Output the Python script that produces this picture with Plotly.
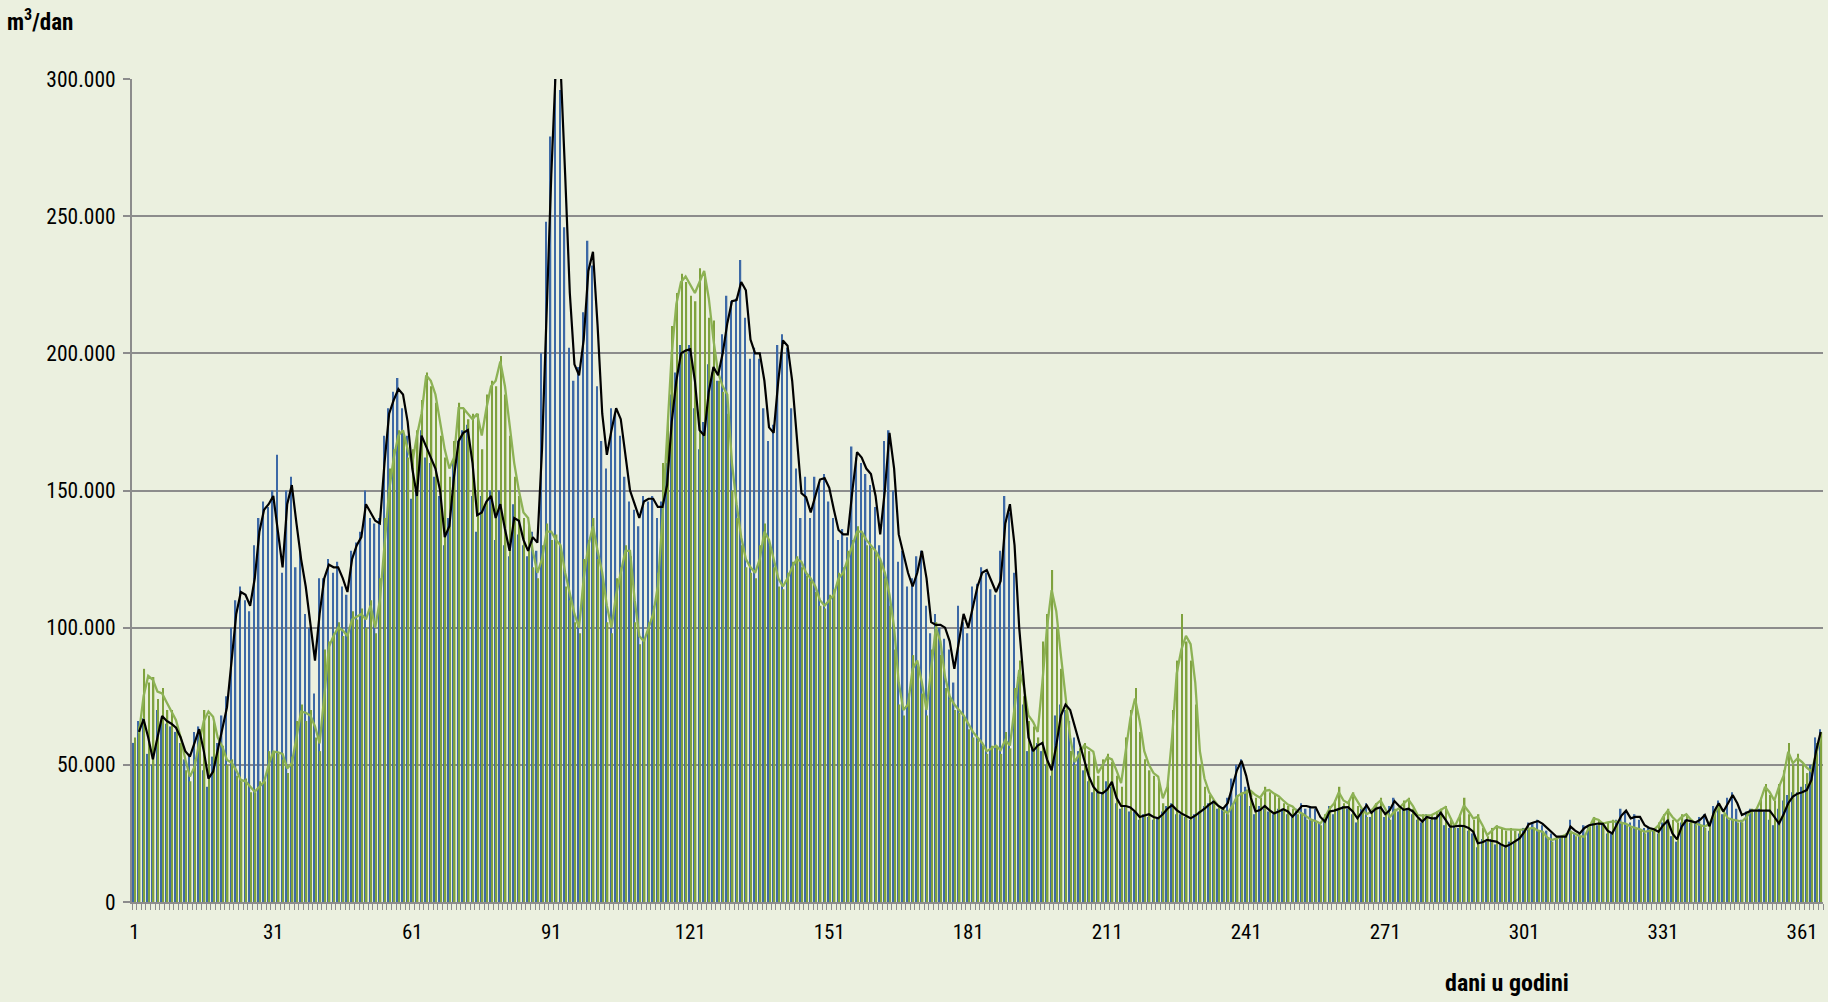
import plotly.graph_objects as go

# values in thousands of m3/dan, day 1..365
blue_bars_k = [
 58, 66, 67, 54, 50, 70, 66, 65, 64, 62,
 58, 52, 54, 62, 64, 48, 42, 53, 58, 68,
 75, 100, 110, 115, 110, 106, 130, 140, 146, 144,
 150, 163, 120, 150, 155, 122, 128, 105, 100, 76,
 118, 118, 125, 120, 124, 115, 112, 128, 131, 135,
 150, 140, 138, 140, 170, 180, 186, 191, 180, 170,
 147, 150, 172, 162, 160, 155, 148, 130, 140, 160,
 168, 172, 174, 148, 135, 148, 145, 150, 132, 150,
 130, 126, 145, 134, 130, 126, 135, 128, 200, 248,
 279, 305, 296, 246, 202, 190, 195, 215, 241, 232,
 188, 168, 158, 180, 178, 170, 155, 146, 143, 137,
 148, 146, 148, 140, 146, 160, 185, 193, 203, 200,
 203, 180, 165, 175, 196, 193, 190, 207, 221, 219,
 220, 234, 213, 198, 202, 198, 180, 168, 174, 203,
 207, 202, 180, 158, 140, 155, 140, 155, 153, 156,
 146, 140, 132, 136, 133, 166, 162, 160, 156, 152,
 144, 130, 168, 172, 150, 124, 128, 115, 118, 126,
 128, 108, 98, 105, 100, 96, 92, 80, 108, 102,
 98, 115, 116, 122, 120, 114, 112, 128, 148, 142,
 120, 82, 72, 55, 56, 58, 55, 50, 46, 68,
 72, 70, 66, 60, 55, 48, 44, 40, 40, 40,
 44, 42, 36, 34, 35, 33, 33, 30, 32, 31,
 30, 31, 33, 35, 36, 32, 32, 31, 30, 32,
 33, 35, 36, 37, 34, 34, 38, 45, 50, 52,
 42, 35, 32, 35, 34, 33, 32, 34, 34, 32,
 31, 34, 36, 34, 35, 34, 29, 30, 35, 32,
 34, 35, 34, 32, 29, 34, 36, 31, 35, 34,
 31, 35, 38, 33, 34, 34, 32, 30, 29, 32,
 30, 31, 33, 28, 27, 28, 27, 28, 26, 25,
 20, 23, 22, 23, 21, 21, 20, 22, 22, 25,
 27, 29, 29, 30, 28, 26, 25, 23, 24, 24,
 30, 25, 25, 28, 28, 29, 28, 29, 25, 25,
 30, 34, 33, 29, 32, 30, 27, 27, 26, 25,
 29, 30, 24, 22, 29, 30, 29, 29, 31, 32,
 26, 35, 37, 32, 38, 40, 34, 30, 33, 34,
 33, 34, 33, 30, 28, 34, 37, 39, 40, 40,
 42, 43, 50, 60, 63,
]

green_bars_k = [
 60, 64, 85, 80, 82, 74, 78, 70, 70, 64,
 58, 48, 44, 52, 62, 70, 68, 66, 56, 57,
 50, 52, 46, 44, 45, 40, 40, 44, 44, 55,
 55, 54, 52, 47, 53, 66, 72, 66, 70, 60,
 55, 92, 95, 98, 102, 97, 98, 106, 103, 107,
 100, 110, 98, 118, 140, 158, 165, 172, 170, 162,
 165, 172, 183, 193, 188, 182, 170, 162, 155, 168,
 182, 180, 176, 178, 178, 165, 185, 190, 188, 199,
 185, 170, 155, 148, 140, 138, 122, 118, 130, 138,
 132, 134, 128, 115, 110, 102, 98, 125, 132, 140,
 125, 118, 102, 98, 118, 122, 130, 126, 102, 94,
 96, 102, 108, 120, 160, 175, 210, 222, 229, 226,
 221, 219, 231, 229, 213, 212, 190, 186, 178, 150,
 140, 130, 122, 120, 118, 130, 138, 130, 122, 115,
 114, 120, 124, 126, 122, 119, 117, 113, 108, 107,
 112, 114, 120, 122, 128, 132, 137, 134, 130, 129,
 127, 124, 118, 108, 92, 72, 68, 76, 90, 86,
 76, 68, 92, 102, 90, 78, 74, 70, 69, 67,
 63, 60, 59, 57, 54, 57, 57, 54, 62, 56,
 78, 88, 75, 66, 64, 60, 95, 105, 121, 100,
 85, 70, 55, 50, 56, 58, 55, 54, 46, 52,
 54, 51, 46, 42, 60, 70, 78, 62, 52, 48,
 46, 44, 36, 44, 70, 88, 105, 95, 88, 72,
 50, 42, 39, 36, 35, 33, 32, 36, 39, 40,
 41, 40, 38, 38, 42, 40, 39, 38, 36, 35,
 34, 32, 32, 30, 30, 29, 28, 32, 35, 37,
 42, 36, 37, 40, 35, 33, 31, 34, 36, 38,
 33, 30, 34, 35, 37, 38, 34, 31, 32, 31,
 32, 33, 34, 35, 30, 27, 32, 38, 32, 30,
 32, 27, 24, 27, 28, 27, 26, 27, 26, 26,
 27, 27, 27, 26, 25, 23, 22, 24, 24, 25,
 26, 24, 24, 24, 28, 31, 30, 28, 29, 30,
 29, 29, 28, 27, 27, 26, 25, 26, 27, 29,
 32, 34, 30, 29, 32, 32, 30, 28, 28, 27,
 29, 33, 36, 32, 30, 30, 29, 29, 32, 34,
 34, 38, 43, 39, 37, 43, 48, 58, 50, 54,
 50, 47, 48, 58, 62,
]

black_line_k = [
 None, 62, 66.6, 60, 52, 60, 67.8, 66, 65, 63.5,
 60, 55, 53, 58, 63, 55, 45, 47.5, 55, 63,
 71, 88, 105, 113, 112, 108, 118, 135, 143, 145,
 148, 135, 122, 145, 152, 138, 125, 115, 102, 88,
 105, 118, 123, 122, 122, 118, 113, 125, 130, 133,
 145, 142, 139, 138, 160, 178, 183, 187, 185, 175,
 158, 148, 170, 166, 162, 158, 150, 133, 137, 155,
 168, 171, 172, 160, 141, 142, 146, 148, 140, 145,
 136, 128, 140, 139, 132, 128, 133, 131, 165, 215,
 265, 305, 305, 265, 222, 196, 192, 205, 230, 237,
 210, 178, 163, 172, 180, 176, 162, 150, 145, 140,
 146, 147, 147, 144, 144, 152, 175, 190, 200, 201,
 201.5, 190, 172, 170, 186, 195, 192, 200, 211, 219,
 219.4, 226, 223, 205, 200, 200, 190, 173, 171, 190,
 204.7, 202.8, 190, 170, 149, 147.6, 142, 148, 154, 154.5,
 151, 143, 135.6, 134, 134, 150, 164, 162, 158, 156,
 148, 134, 150, 171, 158, 134, 127, 120, 115, 120,
 128, 118, 102, 101, 101, 100, 95, 85, 95, 105,
 100, 108, 115, 120, 121, 117, 113, 117, 138, 145,
 130, 100, 80, 60, 55, 57, 58, 52, 48, 57,
 68, 72, 70, 64, 58, 52, 46, 42, 40, 39.6,
 41, 43.8, 38, 35, 35, 34.5, 33, 31, 31.5, 32,
 31, 30.5, 32, 34, 35.3, 33.5, 32.3, 31.5, 30.5, 31.5,
 32.6, 34, 35.5, 36.6, 35, 34, 36, 42, 48, 51.5,
 46, 38, 33, 33.5, 35, 33.5, 32.3, 33, 33.8, 33,
 31.1, 33, 35, 35, 34.5, 34.5, 31, 29.3, 33, 33.3,
 34, 34.5, 34.6, 33, 30.5, 33, 35.3, 32.5, 34, 34.5,
 32, 33.5, 36.8, 35, 33.6, 34, 33, 31, 29.3, 31,
 30.5, 30.5, 32.5, 30, 27.5, 27.6, 27.8, 27.7, 27, 25.6,
 21.4, 21.8, 22.6, 22.3, 22, 21, 20.2, 21, 22, 23.2,
 25.5, 28.4, 29, 29.5, 28.5, 27, 25.5, 23.8, 23.8, 23.8,
 27.5, 26, 25, 27, 28, 28.3, 28.6, 28.5, 26, 25,
 28, 31.5, 33.3, 30.5, 31, 31, 28, 27, 26.5, 25.6,
 28, 29.6, 25, 22.8, 27.5, 29.8, 29.5, 29, 30, 31.7,
 27.6, 33, 36, 33, 36, 39, 36, 31.7, 32.5, 33.3,
 33.3, 33.3, 33.3, 33.3, 31, 28.6, 32, 36, 38.4, 39.5,
 40, 40.8, 44.5, 55, 62,
]

green_line_k = [
 None, 61.5, 75, 82.4, 81, 76.7, 76, 72.7, 69.4, 66.3,
 60, 52, 45.7, 49.3, 58, 66, 69.4, 67.5, 60, 56.6,
 51.8, 50.8, 48, 44.5, 44, 42, 40.2, 42, 43.8, 50,
 54.8, 54.5, 54, 48.7, 50.6, 60, 69.4, 69, 68, 64,
 57.8, 75, 93, 97, 100, 99, 97, 103, 104, 105,
 103, 108, 100, 110, 130, 150, 162, 170, 172, 165,
 160, 170, 178, 192, 190, 185, 175, 165, 158, 162,
 180, 180, 178, 176, 178, 170, 180, 188, 190, 197,
 188, 175, 160, 150, 142, 140, 128, 120, 125, 135,
 135, 132, 130, 120, 112, 105, 100, 118, 130, 137,
 128, 120, 108, 100, 112, 120, 128, 128, 110, 97,
 95, 100, 105, 115, 140, 170, 200, 218, 226, 228,
 225, 222, 226, 230, 220, 205, 193, 188, 185, 160,
 145, 133, 125, 122, 120, 125, 135, 132, 125, 118,
 115, 118, 122, 125, 124, 120, 118, 115, 110, 108,
 110, 112, 118, 120, 125, 130, 135, 135, 132, 130,
 128, 125, 120, 112, 100, 80, 70, 72, 85, 88,
 80, 70, 85, 100, 95, 82, 75, 72, 70, 68,
 65, 62, 60, 58, 55, 56, 57, 55.4, 59, 57,
 70, 84.6, 78.5, 68, 65.7, 62, 80, 100, 113.7, 106,
 90, 74.8, 60, 51, 54, 57, 56, 54.8, 47, 50,
 52.8, 52, 48, 43.3, 55, 67, 74.2, 66, 55, 50,
 47, 45.7, 37.8, 42, 60, 83.3, 92, 97, 94, 80,
 55, 45, 40, 37.2, 35, 33.5, 32.3, 35, 38.4, 39.5,
 40, 40.5, 39, 38, 40.5, 40.8, 39.5, 38.6, 37, 35.5,
 34.8, 33, 32.3, 31, 30, 29.5, 28.6, 31, 34, 36,
 40, 37, 36, 39.5, 36.5, 34, 32, 33, 35.5, 37,
 34, 31, 33, 34.2, 36, 37.4, 35, 31.7, 31.5, 31.7,
 31.7, 32.5, 33.5, 34.6, 31, 27.5, 31, 35.2, 33, 30.5,
 31, 28, 24.4, 26, 27.5, 27, 26.5, 26.5, 26.4, 26.3,
 26.5, 26.8, 27, 26, 25.6, 23.5, 22.6, 23.2, 23.8, 24.5,
 25.6, 24.8, 24, 23.8, 27, 30.5, 30, 28.6, 29, 29.3,
 29.3, 29, 28.5, 27.5, 27, 26.5, 25.6, 26, 26.3, 28,
 31, 33.3, 31, 29.3, 31, 32, 30, 28.6, 28, 27.5,
 28.5, 32, 35.2, 33, 30.5, 30, 29.6, 29.3, 31, 33.3,
 33.3, 37, 42, 40, 37, 42, 46, 54.8, 50.6, 52.4,
 51, 49, 47.6, 54, 60,
]

days = list(range(1, 366))
x_tick_vals = list(range(1, 366, 30))
y_tick_vals = [0, 50000, 100000, 150000, 200000, 250000, 300000]
y_tick_text = ["0", "50.000", "100.000", "150.000", "200.000", "250.000", "300.000"]


def to_units(vals):
    return [None if v is None else v * 1000 for v in vals]


FONT = "Liberation Sans Narrow, Arial Narrow, Roboto Condensed, Liberation Sans, sans-serif"
BG = "#EBF0DF"

fig = go.Figure()
fig.add_trace(go.Bar(x=days, y=to_units(blue_bars_k), marker=dict(color="#3D69A6", line=dict(width=0)),
                     name="blue"))
fig.add_trace(go.Bar(x=days, y=to_units(green_bars_k), marker=dict(color="#7FA23E", line=dict(width=0)),
                     name="green"))
fig.add_trace(go.Scatter(x=days, y=to_units(green_line_k), mode="lines",
                         line=dict(color="#8DB255", width=2.3), name="green avg"))
fig.add_trace(go.Scatter(x=days, y=to_units(black_line_k), mode="lines",
                         line=dict(color="#000000", width=2.2), name="black avg"))

PLOT_W = 1828 - 132 - 5
PLOT_H = 1002 - 79 - 100

fig.update_layout(
    width=1828, height=1002,
    paper_bgcolor=BG, plot_bgcolor=BG,
    showlegend=False,
    barmode="group", bargap=0.36, bargroupgap=0.0,
    margin=dict(l=132, r=5, t=79, b=100),
    font=dict(family=FONT, size=20, color="#000000"),
    xaxis=dict(
        range=[0.5, 365.5], tickmode="array", tickvals=x_tick_vals,
        ticktext=[str(v) for v in x_tick_vals], ticks="", showgrid=False,
        showline=True, linecolor="#8C8C8C", linewidth=2,
        tickfont=dict(family=FONT, size=21), ticklabelstandoff=10,
        minor=dict(tickmode="linear", tick0=0.5, dtick=1, ticks="outside",
                   ticklen=6, tickcolor="#8C8C8C", tickwidth=1, showgrid=False),
        zeroline=False,
    ),
    yaxis=dict(
        range=[0, 300000], tickmode="array", tickvals=y_tick_vals, ticktext=y_tick_text,
        ticks="outside", ticklen=7, tickcolor="#8C8C8C", tickwidth=2,
        showgrid=True, gridcolor="#8C8C8C", gridwidth=2,
        showline=True, linecolor="#8C8C8C", linewidth=2,
        zeroline=False, tickfont=dict(family=FONT, size=21.5), ticklabelstandoff=3,
    ),
    annotations=[
        dict(text="<b>m<sup>3</sup>/dan</b>", xref="paper", yref="paper",
             x=-127 / PLOT_W, y=1 + (79 - 20) / PLOT_H,
             xanchor="left", yanchor="middle", showarrow=False,
             font=dict(family=FONT, size=23, color="#000000")),
        dict(text="<b>dani u godini</b>", xref="paper", yref="paper",
             x=(1507 - 132) / PLOT_W, y=-(983 - 902) / PLOT_H,
             xanchor="center", yanchor="middle", showarrow=False,
             font=dict(family=FONT, size=24, color="#000000")),
    ],
)

fig.write_html(
    "out.html",
    config={"displayModeBar": False},
    post_script="document.body.style.margin='0px';document.body.style.background='#EBF0DF';document.body.style.overflow='hidden';",
)
